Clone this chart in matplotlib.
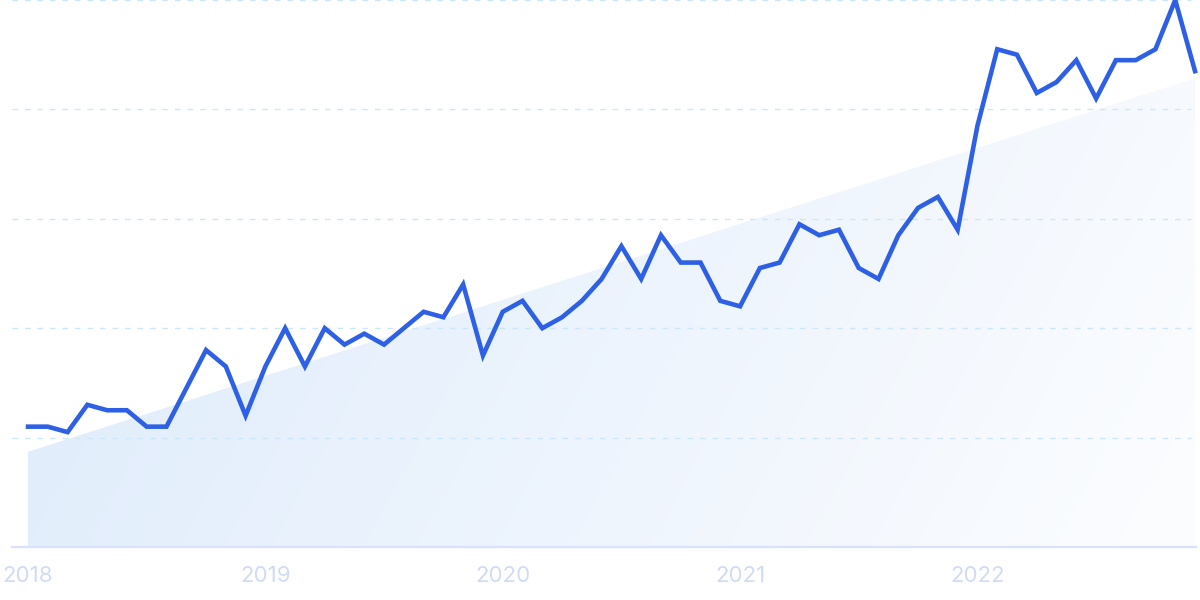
import numpy as np
import matplotlib
matplotlib.use("Agg")
import matplotlib.pyplot as plt

# monthly interest, Jan 2018 .. Dec 2022
values = [22, 22, 21, 26, 25, 25, 22, 22, 29, 36,
          33, 24, 33, 40, 33, 40, 37, 39, 37, 40,
          43, 42, 48, 35, 43, 45, 40, 42, 45, 49,
          55, 49, 57, 52, 52, 45, 44, 51, 52, 59,
          57, 58, 51, 49, 57, 62, 64, 58, 77, 91,
          90, 83, 85, 89, 82, 89, 89, 91, 100, 87]
years = ["2018", "2019", "2020", "2021", "2022"]
trend_start = 17.4
trend_end = 85.7

n = len(values)
x = np.arange(n)
trend = np.linspace(trend_start, trend_end, n)

fig = plt.figure(figsize=(12, 6), dpi=100)
ax = fig.add_axes([12 / 1200, 53 / 600, 1184 / 1200, 547 / 600])
xmin, xmax = -0.81, 59.05
ax.set_xlim(xmin, xmax)
ax.set_ylim(0, 100)

# gradient fill under the trend line
gx = np.linspace(0, 1, 300)
gy = np.linspace(0, 1, 150)
GX, GY = np.meshgrid(gx, gy)
t = np.clip(0.8 * GX + 0.2 * (1 - GY), 0, 1)
c0 = np.array([220, 234, 251]) / 255
c1 = np.array([252, 253, 255]) / 255
img = c0[None, None, :] * (1 - t[..., None]) + c1[None, None, :] * t[..., None]
poly = ax.fill_between(x, 0, trend, color="none", lw=0)
im = ax.imshow(img, extent=[xmin, xmax, 0, 100], origin="lower",
               aspect="auto", zorder=1, interpolation="bilinear")
im.set_clip_path(poly.get_paths()[0], transform=ax.transData)

# dashed grid
for gv in [20, 40, 60, 80, 100]:
    ax.plot([xmin, 58.8], [gv, gv], color="#cbe7fb", lw=1, ls=(0, (4, 5)),
            zorder=2, clip_on=False)

ax.axhline(0, color="#d8e3f9", lw=1.6, zorder=3, clip_on=False)

ax.plot(x, values, color="#2d60e4", lw=3.3, zorder=4, clip_on=False,
        solid_joinstyle="miter")

ax.set_xticks([0, 12, 24, 36, 48])
ax.set_xticklabels(years)
ax.tick_params(axis="x", length=0, pad=14, labelsize=16, labelcolor="#d0dbf5")
for lbl in ax.get_xticklabels():
    lbl.set_fontfamily("Inter")
ax.set_yticks([])
for s in ax.spines.values():
    s.set_visible(False)

fig.savefig("out.png", dpi=100)
